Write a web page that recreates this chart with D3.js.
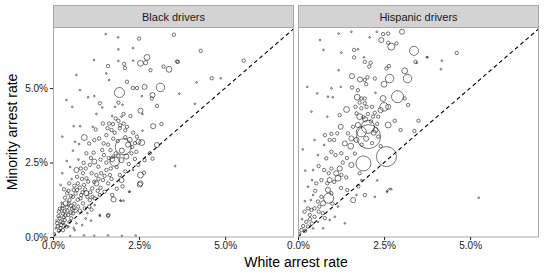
<!DOCTYPE html>
<html>
<head>
<meta charset="utf-8">
<script src="https://cdn.jsdelivr.net/npm/d3@7"></script>
<style>
  html, body { margin: 0; padding: 0; background: #fff; }
  svg { display: block; font-family: "Liberation Sans", Arial, sans-serif; }
</style>
</head>
<body>
<div id="chart"></div>
<script>
// Data: [white arrest rate %, minority arrest rate %, stops]
const facets = ["Black drivers", "Hispanic drivers"];
const xTicks = [0, 2.5, 5];
const yTicks = [0, 2.5, 5];

const blackPoints = [
  [1.53,6.81,1],[1.89,6.70,1],[2.50,6.66,4],[2.33,6.34,1],[1.90,6.30,1],[1.19,5.94,1],[1.60,5.74,4],[1.90,5.91,1],
  [2.07,5.81,4],[2.09,5.67,4],[2.33,5.92,1],[2.54,5.83,12],[2.73,6.03,12],[2.69,5.85,6],[2.83,5.60,4],[3.21,5.72,4],
  [3.37,5.63,12],[3.60,5.89,4],[3.12,5.02,25],[2.89,4.77,9],[2.87,4.65,4],[2.66,5.04,9],[2.44,5.00,4],[2.32,5.00,4],
  [2.58,4.73,1],[1.93,4.85,35],[1.55,5.49,1],[2.15,5.21,4],[1.63,5.27,1],[0.78,4.93,1],[1.02,4.69,1],[1.20,4.73,1],
  [0.39,4.60,1],[0.68,5.44,1],[1.36,4.49,4],[1.43,4.35,1],[1.80,4.37,1],[2.02,4.44,1],[1.90,4.51,4],[2.54,4.24,9],
  [2.60,4.13,1],[3.02,4.40,4],[2.05,4.13,4],[2.25,4.06,4],[1.99,4.04,1],[1.72,4.06,1],[1.26,4.13,1],[0.56,4.37,1],
  [1.45,3.81,4],[1.63,3.81,4],[1.74,3.79,4],[1.90,3.90,4],[2.05,3.81,4],[2.15,3.70,4],[1.70,3.59,4],[1.79,3.50,4],
  [1.94,3.65,4],[1.16,3.70,1],[0.79,3.72,1],[0.60,3.72,1],[0.27,3.37,1],[1.24,3.61,4],[1.55,3.42,4],[0.91,3.34,12],
  [1.20,3.25,4],[1.34,3.31,4],[1.05,3.14,4],[1.47,3.14,4],[2.91,3.72,9],[3.15,3.79,4],[2.60,3.57,1],[2.33,3.50,4],
  [2.44,3.37,4],[2.48,3.20,9],[2.58,3.17,12],[2.04,3.03,89],[2.23,3.26,9],[1.82,2.81,4],[1.72,2.61,9],[1.79,2.53,30],
  [1.99,2.58,9],[2.13,2.70,9],[2.28,2.81,4],[2.42,2.86,4],[1.67,2.92,4],[1.43,2.92,4],[1.18,2.83,4],[0.97,2.81,4],
  [0.76,3.12,1],[0.64,3.20,1],[0.58,2.90,1],[0.27,2.14,1],[1.20,2.53,9],[1.32,2.36,4],[1.07,2.42,4],[0.89,2.49,4],
  [0.81,2.30,4],[0.68,2.25,9],[0.70,2.02,4],[0.54,1.94,1],[0.47,1.80,4],[0.87,2.14,4],[0.97,1.97,4],[1.12,2.14,4],
  [1.26,2.08,4],[1.40,2.14,4],[1.55,2.25,4],[1.65,2.08,4],[1.60,1.80,4],[1.45,1.91,4],[1.26,1.80,9],[1.14,1.63,4],
  [1.94,2.08,4],[1.99,1.91,9],[2.33,2.25,1],[2.54,2.08,12],[2.54,1.80,9],[2.81,2.81,4],[2.66,2.58,4],[3.55,2.38,1],
  [3.02,3.09,9],[2.23,1.52,1],[1.72,1.41,4],[1.76,1.26,9],[1.96,1.22,1],[2.05,1.22,1],[1.50,1.52,4],[1.36,1.41,4],
  [1.21,1.30,4],[1.07,1.24,4],[0.97,1.47,9],[0.82,1.41,4],[0.70,1.58,4],[0.58,1.35,4],[0.48,1.24,4],[0.41,1.47,4],
  [0.37,1.13,9],[0.27,0.96,4],[0.17,0.85,4],[0.29,0.79,4],[0.44,0.74,4],[0.58,0.79,4],[0.73,1.02,4],[0.87,1.13,4],
  [0.92,0.96,4],[1.05,1.02,4],[1.21,1.07,1],[1.36,0.74,1],[1.61,0.74,4],[0.19,0.63,4],[0.34,0.57,4],[0.48,0.51,4],
  [0.12,0.46,4],[0.24,0.40,4],[0.39,0.35,4],[0.08,0.29,1],[0.17,0.21,4],[0.29,0.23,4],[0.63,0.23,1],[0.05,0.12,1],
  [0.68,0.46,1],[0.53,0.63,4],[3.51,6.79,4],[4.29,6.25,4],[3.63,5.88,4],[5.54,5.92,4],[4.61,5.33,4],[4.87,5.33,1],
  [4.17,5.19,1],[3.67,4.81,1],[4.12,4.47,1],[2.89,2.63,4],[2.64,2.16,4],[2.52,1.76,9],[2.21,1.52,1],[1.36,0.71,1],
  [1.60,0.71,4],[1.97,1.22,1],[0.22,0.52,4],[0.31,0.66,4],[0.42,0.88,4],[0.52,1.05,4],[0.62,1.12,4],[0.66,1.46,4],
  [0.78,1.66,4],[0.90,1.75,4],[1.02,1.86,4],[0.84,1.95,4],[0.62,1.72,4],[0.35,1.32,4],[0.25,1.15,1],[0.16,0.70,4],
  [0.10,0.55,1],[0.45,0.35,1],[0.55,0.95,4],[0.78,0.88,4],[1.00,0.80,1],[1.15,1.35,4],[1.30,1.55,4],[1.38,1.65,4],
  [1.50,2.05,4],[1.68,2.30,4],[1.85,2.35,4],[1.90,2.72,4],[2.00,2.90,9],[2.10,3.35,4],[2.18,3.10,9],[2.30,3.02,4],
  [2.38,3.15,4],[1.88,3.22,4],[1.58,3.65,4],[1.82,3.98,4],[1.95,3.75,4],[2.10,3.58,4],[1.38,2.60,4],[1.48,2.75,4],
  [1.10,2.65,4],[0.95,2.30,4],[0.74,2.60,1],[0.50,2.35,1],[0.40,2.55,1],[0.22,1.75,1],[0.32,1.60,4],[0.45,1.55,4],
  [1.12,0.92,4],[0.95,0.62,1],[1.85,1.62,4],[2.02,1.70,4],[2.10,2.20,4],[2.20,2.45,4],[2.48,2.42,4],[2.38,2.62,4],
  [1.70,1.95,4],[0.60,0.30,1],[0.85,0.40,1],[1.10,0.55,1],[0.50,0.03,1],[0.90,0.05,1],[1.20,0.04,1],[1.60,0.05,1],
  [2.00,0.04,1],[2.40,0.05,1],
  [0.20,0.95,4],[0.28,1.05,4],[0.33,0.86,4],[0.40,1.00,4],[0.46,1.12,4],[0.52,0.82,4],[0.60,0.98,4],[0.66,0.88,4],
  [0.72,1.25,4],[0.80,1.30,4],[0.86,1.50,4],[0.93,1.60,4],[1.00,1.35,4],[0.28,0.48,4],[0.36,0.72,4],[0.14,0.36,4],
  [0.22,0.30,4],[0.32,0.44,1],[0.52,1.38,4],[0.60,1.58,4],[0.72,1.80,4],[1.08,1.50,4],[1.20,1.85,4],[1.32,1.95,4],
  [1.55,2.50,4],[1.62,2.65,4],[1.75,2.70,4],[1.60,3.10,4],[1.75,3.30,4]
];

const hispanicPoints = [
  [1.18,6.83,1],[1.55,6.89,1],[2.29,6.89,1],[2.47,6.81,4],[2.62,6.83,4],[3.02,6.89,9],[2.08,6.70,1],[2.42,6.61,9],
  [2.71,6.39,17],[2.86,6.50,4],[2.62,6.52,4],[3.37,6.25,28],[0.64,6.61,1],[0.74,6.28,1],[1.26,6.19,1],[1.63,6.28,4],
  [1.74,6.30,1],[1.63,6.03,4],[1.92,6.03,1],[1.94,5.88,4],[2.11,5.85,4],[2.07,5.72,4],[2.57,5.66,4],[2.64,5.74,4],
  [3.41,5.88,4],[3.10,5.58,12],[3.18,5.32,25],[2.66,5.32,25],[2.50,5.13,12],[3.76,6.03,1],[1.18,5.60,1],[1.57,5.40,9],
  [1.80,5.29,9],[1.94,5.27,4],[2.02,5.36,4],[1.98,5.13,4],[2.23,5.32,4],[1.57,5.02,4],[1.74,4.93,4],[1.24,5.04,1],
  [0.97,4.99,1],[0.27,5.04,1],[0.56,4.82,1],[0.87,4.71,1],[1.01,4.69,1],[1.72,4.69,12],[1.84,4.65,4],[1.94,4.65,4],
  [1.79,4.51,4],[1.94,4.49,4],[2.25,4.84,1],[2.47,4.65,12],[2.89,4.71,50],[3.10,4.65,4],[3.20,4.43,4],[2.50,4.37,25],
  [2.40,4.26,9],[2.62,4.37,9],[1.41,4.28,12],[1.67,4.37,4],[1.84,4.32,4],[1.99,4.37,4],[2.15,4.37,4],[2.23,4.17,4],
  [2.33,4.04,4],[1.79,4.04,12],[2.03,4.13,4],[1.90,4.02,4],[0.85,4.04,1],[1.21,4.09,4],[0.39,4.21,1],[2.62,3.76,12],
  [2.98,3.59,4],[2.81,3.90,4],[2.03,3.70,60],[2.05,3.37,200],[1.84,3.53,35],[1.74,3.76,9],[1.60,3.70,4],[1.45,3.48,4],
  [1.55,3.31,9],[1.70,3.26,9],[2.18,4.04,4],[2.25,3.59,9],[2.33,3.37,4],[1.24,3.70,9],[1.14,3.48,4],[0.97,3.46,4],
  [0.78,3.42,4],[0.92,3.26,4],[1.05,3.26,4],[0.76,3.09,1],[0.48,3.26,1],[0.14,2.94,1],[1.36,3.14,9],[1.53,3.05,12],
  [1.26,2.81,4],[0.97,2.86,4],[1.09,2.75,4],[0.82,2.64,4],[0.58,2.75,1],[1.90,2.47,78],[2.57,2.70,139],[1.55,2.42,9],
  [1.21,2.30,9],[1.11,2.14,9],[1.26,2.08,4],[0.97,2.30,4],[0.89,2.14,4],[0.76,2.25,4],[0.60,2.38,4],[0.44,2.25,1],
  [0.21,2.23,1],[1.16,1.97,12],[0.92,1.91,9],[0.68,1.91,4],[0.53,1.80,4],[0.41,1.91,1],[0.29,1.69,1],[0.85,1.80,4],
  [0.87,1.58,9],[0.97,1.47,4],[0.89,1.30,35],[0.68,1.35,4],[0.58,1.19,4],[0.44,1.41,1],[0.37,1.24,1],[0.73,1.13,9],
  [1.60,1.24,9],[1.79,2.14,4],[1.84,1.91,1],[1.94,1.41,4],[2.60,1.55,1],[2.71,1.60,1],[2.23,1.35,1],[1.43,1.58,4],
  [1.70,1.41,1],[0.29,0.96,4],[0.39,0.91,4],[0.48,0.96,4],[0.19,0.85,4],[0.60,0.85,4],[0.34,0.74,4],[0.48,0.68,4],
  [0.78,0.63,4],[0.92,0.57,1],[1.07,0.68,1],[0.58,0.51,1],[0.24,0.51,4],[0.15,0.37,4],[0.29,0.35,4],[0.44,0.29,1],
  [0.10,0.23,4],[0.21,0.21,4],[0.73,0.29,1],[1.36,0.46,1],[0.05,0.12,1],[1.16,1.02,1],[5.25,1.32,1],[4.61,6.18,4],
  [4.15,5.63,1],[4.18,5.92,1],[3.74,6.04,1],[3.45,5.85,1],[2.58,1.52,1],[2.66,1.62,1],[3.50,3.90,4],[3.38,3.56,4],
  [1.95,3.95,9],[2.12,3.88,4],[2.20,3.50,9],[1.98,3.30,9],[2.15,3.15,4],[1.85,3.10,4],[2.30,3.80,4],[1.70,4.15,4],
  [2.40,3.05,4],[1.65,2.80,4],[1.42,2.65,4],[1.30,2.50,4],[0.50,1.55,4],[0.62,1.02,4],[0.35,0.60,4],[0.40,0.45,4],
  [0.12,0.60,1],[0.20,1.20,1],[0.72,0.80,4],[1.00,1.12,4],[1.25,1.65,4],[1.05,1.85,4],[1.40,2.00,4],[2.30,1.90,1],
  [1.75,1.70,4]
];

const facetData = [blackPoints, hispanicPoints];

// Layout
const width = 545, height = 273;
const panelLefts = [53, 298];
const panelW = 241;
const stripTop = 5, panelTop = 27, panelBottom = 237;
const panelH = panelBottom - panelTop;

const x = d3.scaleLinear().domain([0, 7]).range([0, panelW]);
const y = d3.scaleLinear().domain([0, 7.05]).range([panelH, 0]);
const r = d3.scaleSqrt().domain([0, 200]).range([0, 12]);
const fmt = d => d.toFixed(1) + "%";

const svg = d3.select("#chart").append("svg")
    .attr("width", width)
    .attr("height", height);

facets.forEach((name, i) => {
    const left = panelLefts[i];
    const g = svg.append("g").attr("transform", `translate(${left},${panelTop})`);

    svg.append("clipPath").attr("id", "clip" + i)
        .append("rect").attr("width", panelW).attr("height", panelH);

    // strip
    svg.append("rect")
        .attr("x", left + 0.5).attr("y", stripTop + 0.5)
        .attr("width", panelW - 1).attr("height", panelTop - stripTop)
        .attr("fill", "#d3d3d3").attr("stroke", "#a8a8a8");
    svg.append("text")
        .attr("x", left + panelW / 2).attr("y", 20.5)
        .attr("text-anchor", "middle")
        .attr("font-size", 11).attr("fill", "#1a1a1a")
        .text(name);

    const plot = g.append("g").attr("clip-path", `url(#clip${i})`);

    plot.selectAll("circle")
        .data(facetData[i])
        .join("circle")
        .attr("cx", d => x(d[0]))
        .attr("cy", d => y(d[1]))
        .attr("r", d => r(d[2]))
        .attr("fill", "none")
        .attr("stroke", "#1a1a1a")
        .attr("stroke-width", 0.6);

    // y = x reference
    plot.append("line")
        .attr("x1", x(0)).attr("y1", y(0))
        .attr("x2", x(7.05)).attr("y2", y(7.05))
        .attr("stroke", "#000").attr("stroke-width", 1.1)
        .attr("stroke-dasharray", "4,3");

    // panel border
    g.append("rect")
        .attr("x", 0.5).attr("y", 0)
        .attr("width", panelW - 1).attr("height", panelH)
        .attr("fill", "none").attr("stroke", "#a8a8a8");

    // x axis
    const xa = g.append("g").attr("transform", `translate(0,${panelH})`)
        .call(d3.axisBottom(x).tickValues(xTicks).tickFormat(fmt).tickSize(3).tickPadding(2));
    xa.select(".domain").remove();
    xa.selectAll("line").attr("stroke", "#222");
    xa.selectAll("text").attr("font-size", 10).attr("fill", "#222").attr("font-family", null);

    if (i === 0) {
        const ya = g.append("g")
            .call(d3.axisLeft(y).tickValues(yTicks).tickFormat(fmt).tickSize(3).tickPadding(2));
        ya.select(".domain").remove();
        ya.selectAll("line").attr("stroke", "#222");
        ya.selectAll("text").attr("font-size", 10).attr("fill", "#222").attr("font-family", null);
    }
});

// axis titles
svg.append("text")
    .attr("x", (panelLefts[0] + panelLefts[1] + panelW) / 2).attr("y", 267)
    .attr("text-anchor", "middle").attr("font-size", 14)
    .text("White arrest rate");

svg.append("text")
    .attr("transform", `translate(17,${panelTop + panelH / 2}) rotate(-90)`)
    .attr("text-anchor", "middle").attr("font-size", 14)
    .text("Minority arrest rate");
</script>
</body>
</html>
